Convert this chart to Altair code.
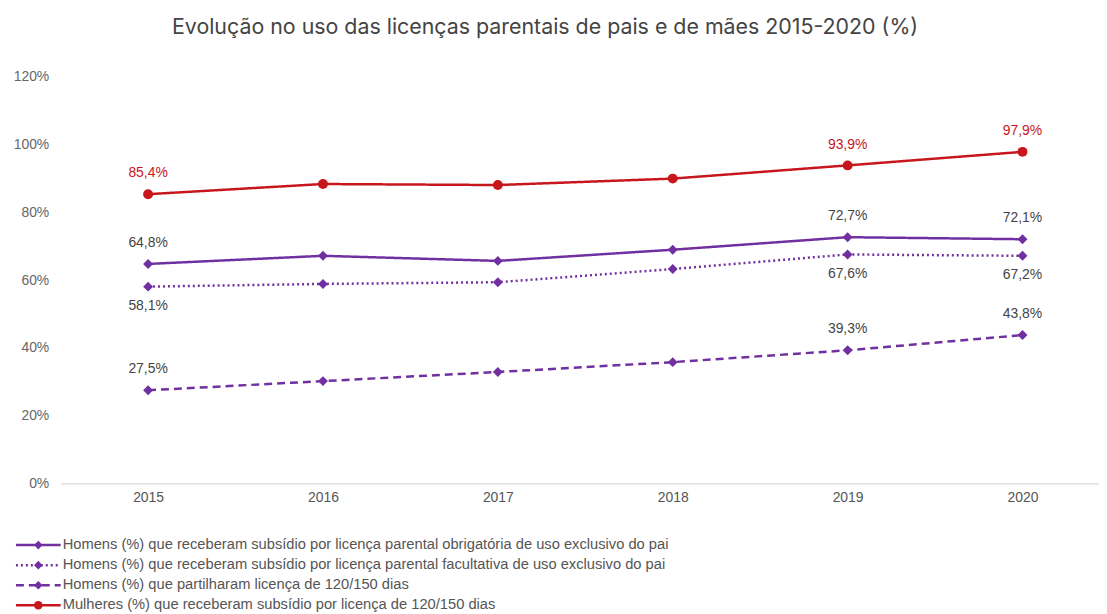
import altair as alt
import pandas as pd

YEARS = [2015, 2016, 2017, 2018, 2019, 2020]
LABELLED_YEARS = [2015, 2019, 2020]
SERIES = [
    "Homens (%) que receberam subsídio por licença parental obrigatória de uso exclusivo do pai",
    "Homens (%) que receberam subsídio por licença parental facultativa de uso exclusivo do pai",
    "Homens (%) que partilharam licença de 120/150 dias",
    "Mulheres (%) que receberam subsídio por licença de 120/150 dias",
]
MARKER_KEYS = ["obrigatoria", "facultativa", "partilha", "mulheres"]
OBRIGATORIA = [64.8, 67.2, 65.7, 69.0, 72.7, 72.1]
FACULTATIVA = [58.1, 58.9, 59.4, 63.3, 67.6, 67.2]
PARTILHA = [27.5, 30.2, 32.9, 35.8, 39.3, 43.8]
MULHERES = [85.4, 88.4, 88.1, 90.0, 93.9, 97.9]
Y_TICKS = [0, 20, 40, 60, 80, 100, 120]

COLORS = ["#7030A0", "#7030A0", "#7030A0", "#C8161D"]
DASHES = [[1, 0], [2, 3], [8, 5], [1, 0]]
SHAPES = ["diamond", "diamond", "diamond", "circle"]
FONT = "Liberation Sans"

rows = []
for name, key, vals in zip(SERIES, MARKER_KEYS, [OBRIGATORIA, FACULTATIVA, PARTILHA, MULHERES]):
    for yr, v in zip(YEARS, vals):
        rows.append({"series": name, "marker": key, "year": yr, "value": v})
df = pd.DataFrame(rows)

base = alt.Chart(df)

x_enc = alt.X(
    "year:Q",
    scale=alt.Scale(domain=[2014.5, 2020.4375], nice=False, zero=False),
    axis=alt.Axis(
        values=YEARS, format="d", title=None, grid=False, ticks=False,
        domainColor="#d9d9d9", domainWidth=1.2, labelPadding=7,
        labelFontSize=14, labelColor="#555", labelFont=FONT,
    ),
)
y_enc = alt.Y(
    "value:Q",
    scale=alt.Scale(domain=[0, 120], nice=False),
    axis=alt.Axis(
        values=Y_TICKS, labelExpr="datum.value + '%'", title=None, grid=False,
        domain=False, ticks=False, labelPadding=12, labelFontSize=14,
        labelColor="#666", labelFont=FONT,
    ),
)

LEG_X = -29.9
LEG_Y = 463.7
LEG_FS = 14.8

line_legend = alt.Legend(
    title=None, orient="none", legendX=LEG_X, legendY=LEG_Y,
    symbolType="M-4.5,0L4.5,0", symbolSize=100, symbolStrokeWidth=2.5,
    labelFontSize=LEG_FS, labelFont=FONT, labelColor="#555", labelOffset=17.1,
    labelLimit=900, rowPadding=4.2, padding=0, symbolOffset=0,
)
marker_legend = alt.Legend(
    title=None, orient="none", legendX=LEG_X, legendY=LEG_Y,
    symbolSize=75, symbolStrokeWidth=0, labelExpr="''",
    labelFontSize=LEG_FS, labelFont=FONT, labelOffset=17.1,
    labelLimit=900, rowPadding=4.2, padding=0, symbolOffset=0,
)

lines = base.mark_line(strokeWidth=2.5).encode(
    x=x_enc,
    y=y_enc,
    color=alt.Color("series:N", scale=alt.Scale(domain=SERIES, range=COLORS), legend=line_legend),
    strokeDash=alt.StrokeDash("series:N", scale=alt.Scale(domain=SERIES, range=DASHES), legend=line_legend),
)

points = base.mark_point(filled=True, size=100, opacity=1, strokeWidth=0).encode(
    x=x_enc,
    y=y_enc,
    fill=alt.Fill("marker:N", scale=alt.Scale(domain=MARKER_KEYS, range=COLORS), legend=marker_legend),
    shape=alt.Shape("marker:N", scale=alt.Scale(domain=MARKER_KEYS, range=SHAPES), legend=marker_legend),
)

labelled = base.transform_filter(
    alt.FieldOneOfPredicate(field="year", oneOf=LABELLED_YEARS)
).transform_calculate(
    label="replace(format(datum.value, '.1f'), '.', ',') + '%'"
)

red_labels = labelled.transform_filter(
    alt.FieldEqualPredicate(field="series", equal=SERIES[3])
).mark_text(dy=-21, fontSize=14, font=FONT, color="#C8161D", baseline="middle").encode(
    x=x_enc, y=y_enc, text="label:N"
)
above_labels = labelled.transform_filter(
    alt.FieldOneOfPredicate(field="series", oneOf=[SERIES[0], SERIES[2]])
).mark_text(dy=-21, fontSize=14, font=FONT, color="#444", baseline="middle").encode(
    x=x_enc, y=y_enc, text="label:N"
)
below_labels = labelled.transform_filter(
    alt.FieldEqualPredicate(field="series", equal=SERIES[1])
).mark_text(dy=19.5, fontSize=14, font=FONT, color="#444", baseline="middle").encode(
    x=x_enc, y=y_enc, text="label:N"
)

chart = alt.layer(lines, points, red_labels, above_labels, below_labels).properties(
    width=1045,
    height=409,
    padding={"left": 5, "top": 6.5, "right": 0, "bottom": 0},
    title=alt.TitleParams(
        "Evolução no uso das licenças parentais de pais e de mães 2015-2020 (%)",
        fontSize=21.5, font="Inter", color="#444", fontWeight="normal",
        anchor="middle", dx=-35, offset=32,
    ),
    background="white",
).configure_view(stroke=None)

chart.save("out.html", embed_options={"renderer": "svg", "actions": False})
